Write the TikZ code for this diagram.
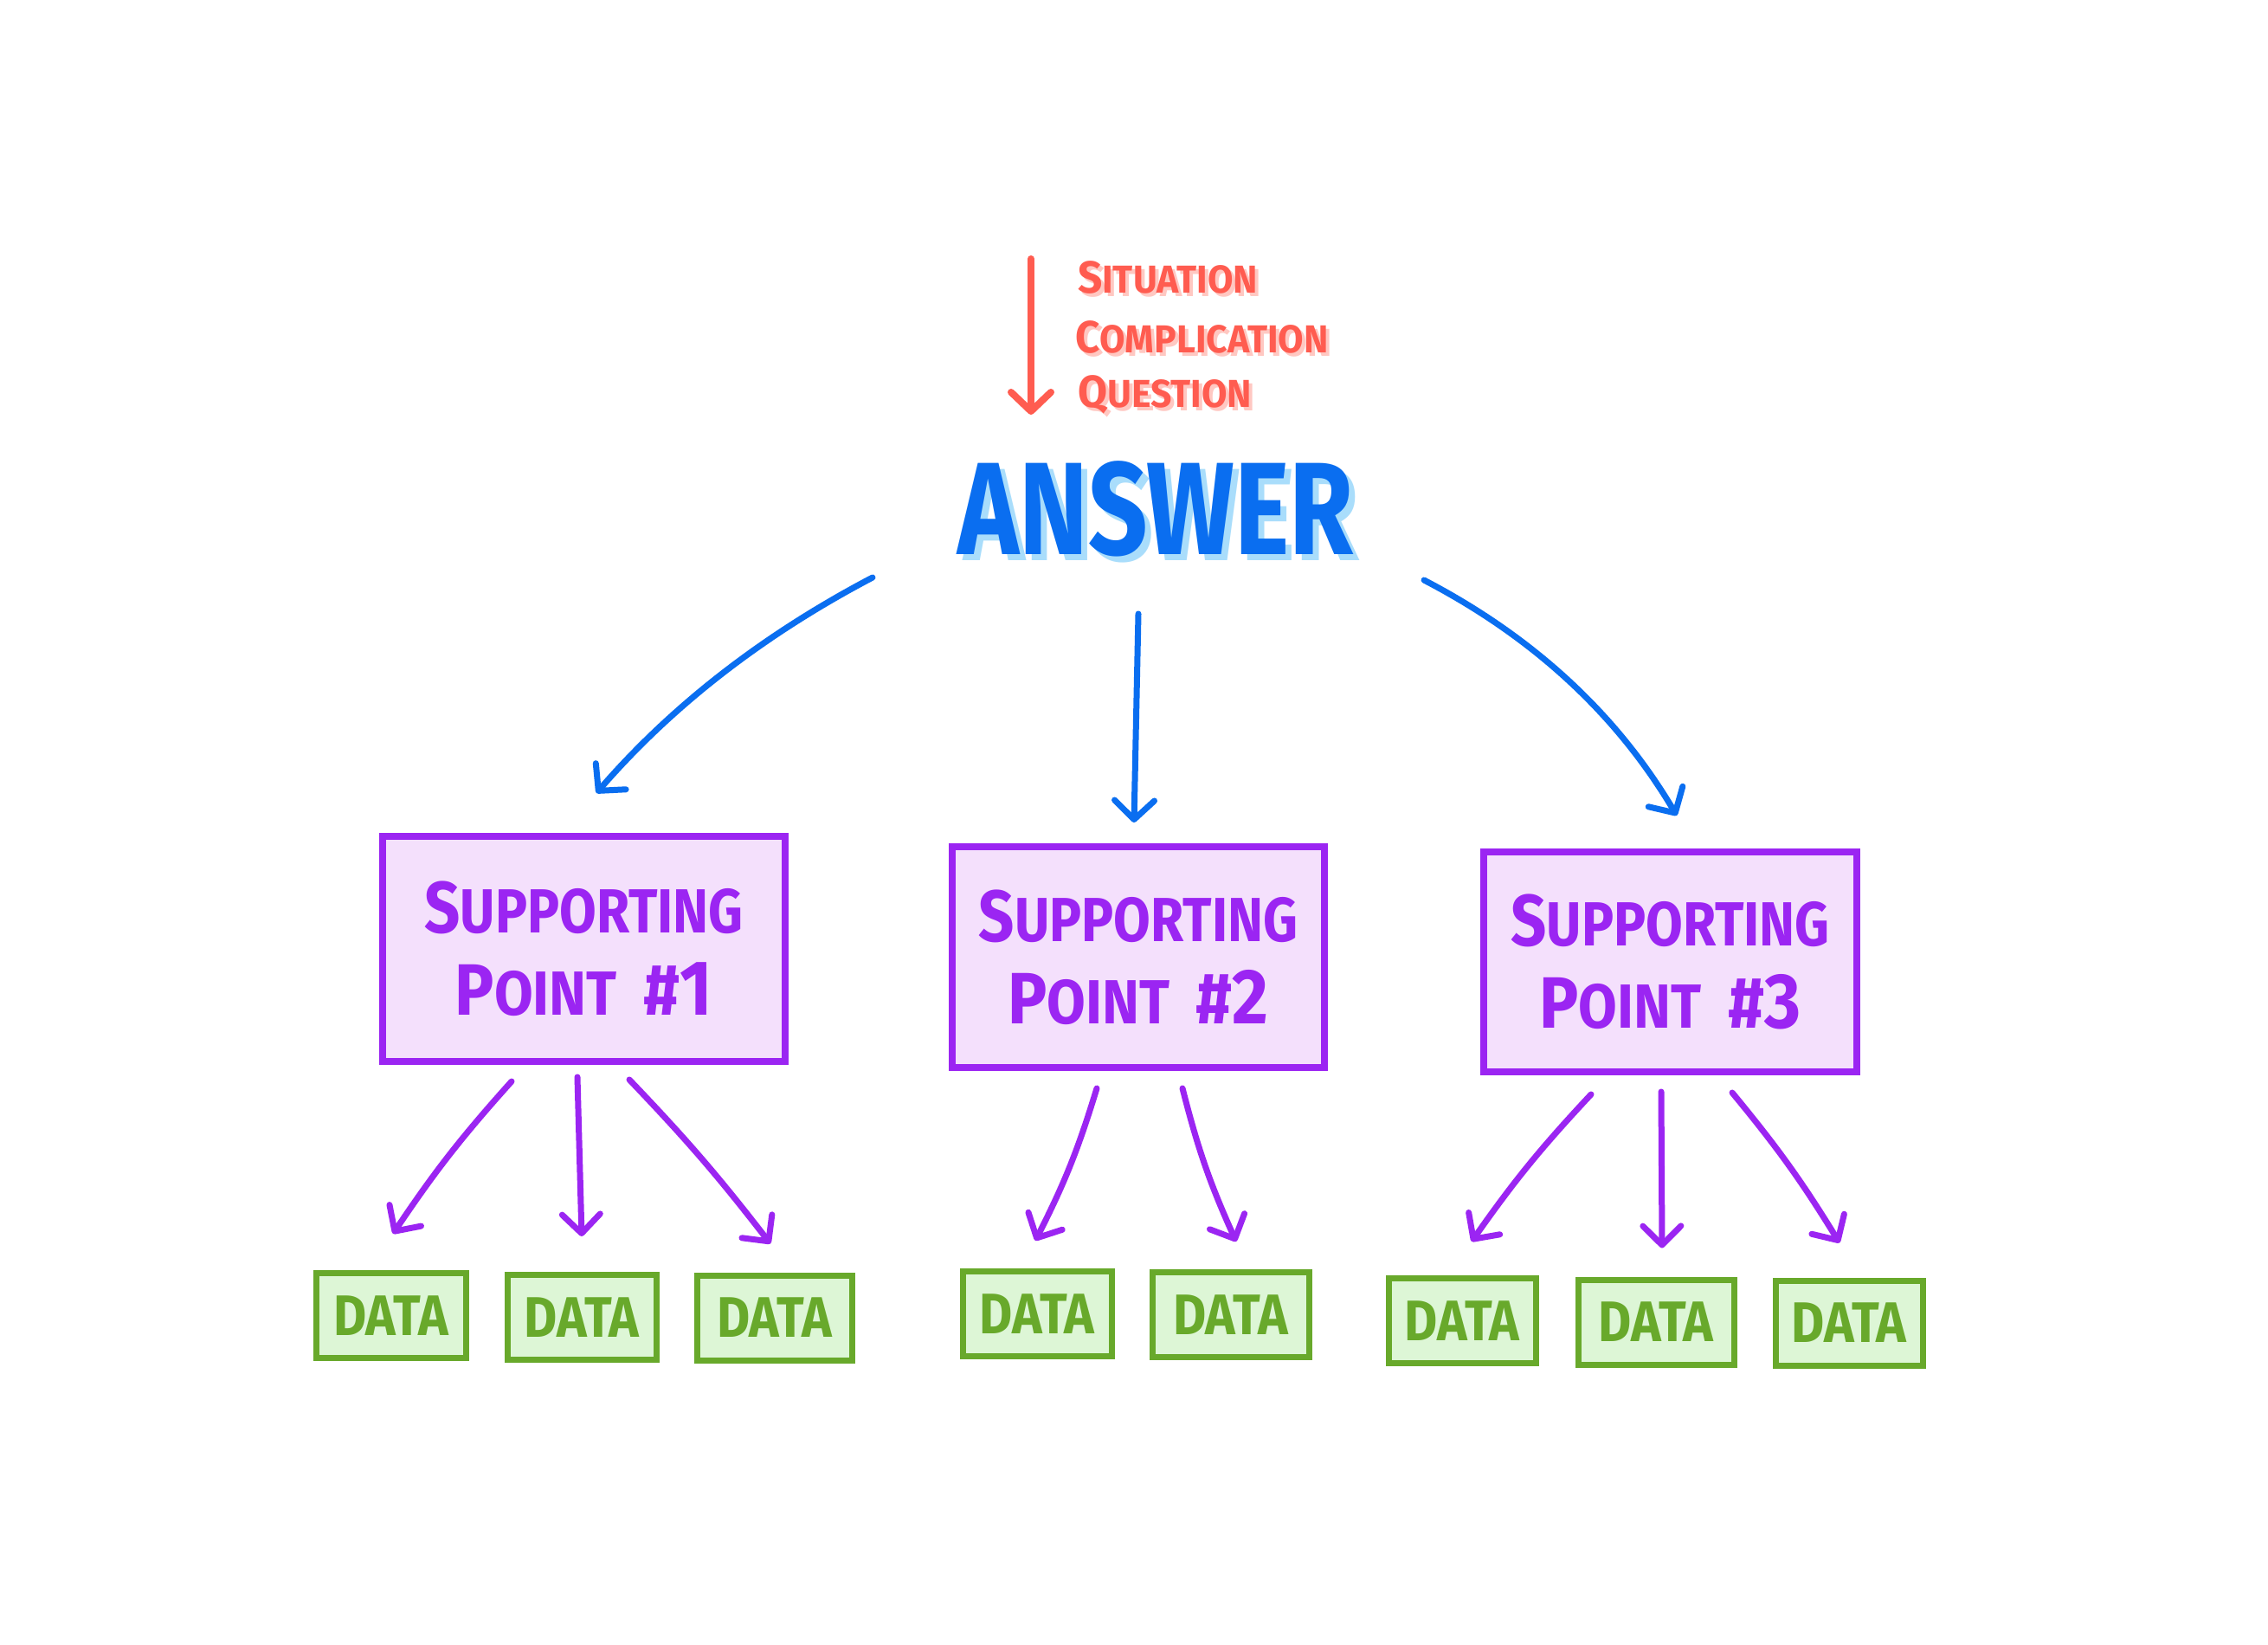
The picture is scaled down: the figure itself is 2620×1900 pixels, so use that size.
\documentclass[tikz,border=0pt]{standalone}
\usepackage{fontspec}
\setmainfont{Fira Sans}
\usetikzlibrary{arrows.meta,calc}
\definecolor{ablue}{HTML}{0A6EF0}
\definecolor{ashadow}{HTML}{A9DDFB}
\definecolor{ared}{HTML}{FF5C50}
\definecolor{rshadow}{HTML}{FFC8C2}
\definecolor{apurple}{HTML}{9B25F2}
\definecolor{pfill}{HTML}{F4E0FC}
\definecolor{agreen}{HTML}{68A92B}
\definecolor{gfill}{HTML}{DDF6D6}
\newcommand{\sqz}[2][0.74]{\scalebox{#1}[1]{#2}}
\newcommand{\redword}[2]{\sqz[0.95]{#1{\fontsize{45}{50}\selectfont #2}}}
\newcommand{\spword}[1]{\sqz[0.86]{S{\fontsize{72}{97}\selectfont UPPORTING}}\\[-2pt]\sqz[0.9]{P{\fontsize{72}{97}\selectfont OINT}\hspace{34pt}\#{\fontsize{90}{97}\selectfont #1}}}
\begin{document}
\begin{tikzpicture}[x=1pt,y=-1pt,
  anstext/.style={inner sep=0pt, font=\fontsize{152}{160}\selectfont\bfseries},
  redtext/.style={anchor=west, inner sep=0pt, text=ared, font=\fontsize{52}{60}\selectfont\bfseries},
  redshadow/.style={redtext, text=rshadow},
  spbox/.style={draw=apurple, fill=pfill, line width=8pt, inner sep=0pt,
    text=apurple, align=center, font=\fontsize{84}{97}\selectfont\bfseries},
  dbox/.style={draw=agreen, fill=gfill, line width=7pt, inner sep=0pt,
    minimum height=98pt, text=agreen, font=\fontsize{66}{70}\selectfont\bfseries},
  bluearr/.style={draw=ablue, line width=7pt, line cap=round,
    -{Straight Barb[length=22pt,width=46pt,line width=7pt,round]}},
  redarr/.style={draw=ared, line width=8pt, line cap=round,
    -{Straight Barb[length=22pt,width=46pt,line width=8pt,round]}},
  purparr/.style={draw=apurple, line width=7pt, line cap=round,
    -{Straight Barb[length=22pt,width=44pt,line width=7pt,round]}}
]
\useasboundingbox (0,0) rectangle (2620,1900);
\fill[white] (0,0) rectangle (2620,1900);

% situation / complication / question
\coordinate (rtop) at (1191,299);
\coordinate (rbot) at (1191,479);
\draw[redarr] (rtop) -- (rbot);
\node[redshadow] (sits) at (1249,324) {\redword{S}{ITUATION}};
\node[redtext] (sit) at (1245,320) {\redword{S}{ITUATION}};
\node[redshadow] (comps) at (1246,393) {\redword{C}{OMPLICATION}};
\node[redtext] (comp) at (1242,389) {\redword{C}{OMPLICATION}};
\node[redshadow] (quess) at (1249,460) {\redword{Q}{UESTION}};
\node[redtext] (ques) at (1245,456) {\redword{Q}{UESTION}};

% answer
\node[anstext, text=ashadow] (anss) at (1342,595) {\sqz[0.79]{ANSWER}};
\node[anstext, text=ablue] (ans) at (1335,588) {\sqz[0.79]{ANSWER}};

% supporting points
\node[spbox, minimum width=465pt, minimum height=260pt] (sp1) at (674.5,1096) {\spword{1}};
\node[spbox, minimum width=430pt, minimum height=255pt] (sp2) at (1315,1105.5) {\spword{2}};
\node[spbox, minimum width=431pt, minimum height=254pt] (sp3) at (1929.5,1111) {\spword{3}};

% data boxes
\node[dbox, minimum width=173pt] (d1) at (451.5,1519.5) {\sqz[0.89]{DATA}};
\node[dbox, minimum width=172pt] (d2) at (672,1521.5) {\sqz[0.89]{DATA}};
\node[dbox, minimum width=179pt] (d3) at (894.5,1522) {\sqz[0.89]{DATA}};
\node[dbox, minimum width=172pt] (d4) at (1198,1517.5) {\sqz[0.89]{DATA}};
\node[dbox, minimum width=181pt] (d5) at (1421.5,1518.5) {\sqz[0.89]{DATA}};
\node[dbox, minimum width=170pt] (d6) at (1689,1525.5) {\sqz[0.89]{DATA}};
\node[dbox, minimum width=180pt] (d7) at (1913,1527) {\sqz[0.89]{DATA}};
\node[dbox, minimum width=170pt] (d8) at (2136,1528) {\sqz[0.89]{DATA}};

% blue arrows
\draw[bluearr] ($(ans.center)+(-327,79)$) .. controls ($(ans.center)+(-449,143)$) and ($(sp1.north)+(104.5,-150)$) .. ($(sp1.north)+(14.5,-46)$);
\draw[bluearr] ($(ans.center)+(-20,121)$) -- ($(sp2.north)+(-5,-24)$);
\draw[bluearr] ($(ans.center)+(310,82)$) .. controls ($(ans.center)+(433,146)$) and ($(sp3.north)+(-63.5,-158)$) .. ($(sp3.north)+(7.5,-38)$);

% purple arrows
\draw[purparr] ($(sp1.south)+(-83.5,19)$) to[bend right=4] ($(d1.north)+(2.5,-42)$);
\draw[purparr] ($(sp1.south)+(-7.5,14)$) -- ($(d2.north)+(0,-41)$);
\draw[purparr] ($(sp1.south)+(52.5,17)$) to[bend left=3] ($(d3.north)+(-4.5,-33)$);
\draw[purparr] ($(sp2.south)+(-48,20)$) to[bend left=5] ($(d4.north)+(-2,-32)$);
\draw[purparr] ($(sp2.south)+(51,20)$) to[bend right=5] ($(d5.north)+(6.5,-32)$);
\draw[purparr] ($(sp3.south)+(-91.5,22)$) to[bend right=4] ($(d6.north)+(11,-39)$);
\draw[purparr] ($(sp3.south)+(-10.5,19)$) -- ($(d7.north)+(7,-33)$);
\draw[purparr] ($(sp3.south)+(71.5,20)$) to[bend left=4] ($(d8.north)+(-11,-40)$);
\end{tikzpicture}
\end{document}
